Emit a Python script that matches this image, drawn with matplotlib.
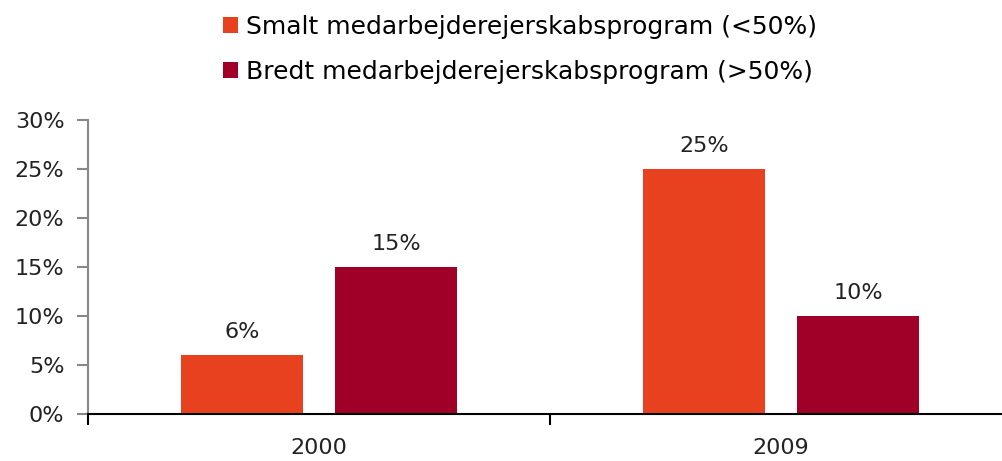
import matplotlib
matplotlib.use("Agg")
from matplotlib import pyplot as plt
import numpy as np

years = ["2000", "2009"]
narrow = [6, 25]
broad = [15, 10]
labels = ["Smalt medarbejderejerskabsprogram (<50%)",
          "Bredt medarbejderejerskabsprogram (>50%)"]
colors = ["#E84120", "#A00028"]


def main():
    plt.rcParams["font.family"] = ["DejaVu Sans"]
    fig = plt.figure(figsize=(10.02, 4.61), dpi=100)
    ax = fig.add_axes([88 / 1002, 47 / 461, 914 / 1002, 294 / 461])

    x = np.arange(len(years))
    width = 0.266
    off = 0.1667
    bars = []
    for vals, dx, col, lab in zip([narrow, broad], [-off, off], colors, labels):
        b = ax.bar(x + dx, vals, width, color=col, label=lab)
        bars.append(b)
        for xi, v in zip(x + dx, vals):
            ax.text(xi, v + 1.3, f"{v}%", ha="center", va="bottom",
                    fontsize=16, color="#222222")

    ax.set_yticks(range(0, 31, 5))
    ax.set_yticklabels([f"{v}%" for v in range(0, 31, 5)])
    ax.set_xticks(x)
    ax.set_xticklabels(years)
    ax.set_xticks([-0.5, 0.5, 1.5], minor=True)
    # set limits after the ticks, otherwise the minor ticks widen the view
    ax.set_ylim(0, 30)
    ax.set_xlim(-0.5, -0.5 + 914 / 462)

    for s in ["top", "right"]:
        ax.spines[s].set_visible(False)
    ax.spines["left"].set_color("#888888")
    ax.spines["left"].set_linewidth(1.5)
    ax.spines["bottom"].set_color("black")
    ax.spines["bottom"].set_linewidth(1.5)
    ax.tick_params(axis="y", colors="#888888", length=8, width=1.5,
                   labelcolor="#222222", labelsize=16, pad=9)
    ax.tick_params(axis="x", which="major", length=0, labelsize=16,
                   labelcolor="#222222", pad=17)
    ax.tick_params(axis="x", which="minor", length=8, width=1.5,
                   color="black")

    fig.legend(handles=bars, labels=labels, loc="center",
               bbox_to_anchor=(0.519, 0.893), frameon=False, fontsize=18,
               handlelength=0.6, handleheight=0.6, handletextpad=0.35,
               labelspacing=0.85)

    fig.savefig("out.png", dpi=100)


if __name__ == "__main__":
    main()
